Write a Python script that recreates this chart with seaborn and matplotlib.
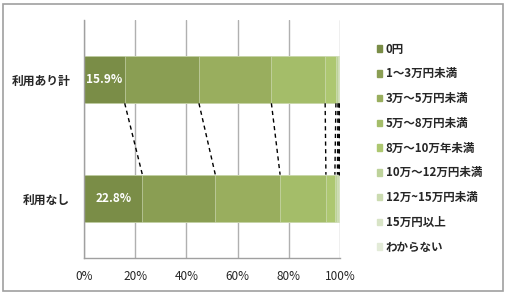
import matplotlib
matplotlib.use("Agg")
import matplotlib.pyplot as plt
import matplotlib.patches as mpatches
import seaborn as sns
import numpy as np
import pandas as pd

categories = ["利用あり計", "利用なし"]
series_labels = ["0円", "1～3万円未満", "3万～5万円未満", "5万～8万円未満", "8万～10万年未満",
                 "10万～12万円未満", "12万~15万円未満", "15万円以上", "わからない"]
values_top = [15.9, 29.0, 28.3, 21.0, 4.2, 0.8, 0.4, 0.2, 0.2]
values_bottom = [22.8, 28.5, 25.3, 17.9, 3.5, 1.0, 0.5, 0.3, 0.2]
colors = ["#7A8D47", "#8A9E53", "#99AE5E", "#A4BD69", "#ADC770",
          "#BDD29A", "#CBDBB0", "#D8E4C6", "#E3EBD8"]

sns.set_theme(style="white")
plt.rcParams['font.family'] = ['Noto Sans CJK JP', 'DejaVu Sans']

fig = plt.figure(figsize=(5.1, 2.95), dpi=100)
ax = fig.add_axes([84/510, 1-258/295, 256/510, 238/295])

cum_top = np.cumsum(values_top)
cum_bot = np.cumsum(values_bottom)

# stacked bars drawn as overlapping cumulative bars (largest first)
for i in range(len(series_labels) - 1, -1, -1):
    df = pd.DataFrame({"cat": categories, "val": [cum_top[i], cum_bot[i]]})
    sns.barplot(data=df, x="val", y="cat", orient="h", color=colors[i],
                width=0.4, ax=ax, edgecolor="#D8E2C4", linewidth=0.4,
                saturation=1)

# series lines
for i in range(len(series_labels) - 1):
    ax.plot([cum_top[i], cum_bot[i]], [0.2, 0.8], color="black",
            linestyle=(0, (3, 2.5)), linewidth=1.0, zorder=1)

# data labels on first segment
for j, v in enumerate([values_top[0], values_bottom[0]]):
    ax.text(v / 2, j, f"{v}%", color="white", fontsize=8.5, fontweight="bold",
            ha="center", va="center")

ax.set_xlim(0, 100)
ax.set_ylim(1.5, -0.5)
ax.set_xticks([0, 20, 40, 60, 80, 100])
ax.set_xticklabels([f"{t}%" for t in [0, 20, 40, 60, 80, 100]], fontsize=8.5)
ax.set_yticks([0, 1])
ax.set_yticklabels(categories, fontsize=8.5, fontweight="bold")
ax.tick_params(axis="y", length=0, pad=10)
ax.set_yticks([-0.5, 0.5, 1.5], minor=True)
ax.tick_params(axis="y", which="minor", length=5, direction="out", color="#A0A0A0", width=1)
ax.tick_params(axis="x", length=3, direction="out", color="#A0A0A0", width=1, pad=6)
ax.xaxis.grid(True, color="#B0B0B0", linewidth=1)
ax.yaxis.grid(False)
ax.set_axisbelow(True)
ax.set_xlabel("")
ax.set_ylabel("")
for s in ["top", "right"]:
    ax.spines[s].set_visible(False)
for s in ["left", "bottom"]:
    ax.spines[s].set_color("#A0A0A0")
    ax.spines[s].set_linewidth(1)

handles = [mpatches.Patch(color=c, label=l) for c, l in zip(colors, series_labels)]
leg = fig.legend(handles=handles, loc="upper left", bbox_to_anchor=(372/510, 1-38/295),
                 frameon=False, fontsize=8.3, handlelength=0.5, handleheight=0.5,
                 handletextpad=0.3, labelspacing=1.02, borderaxespad=0)
for t in leg.get_texts():
    t.set_fontweight("bold")

fig.patches.append(mpatches.Rectangle((3/510, 1-291/295), 500/510, 287/295,
                                      transform=fig.transFigure, fill=False,
                                      edgecolor="#A0A0A0", linewidth=1.2))

fig.savefig("out.png", dpi=100)
